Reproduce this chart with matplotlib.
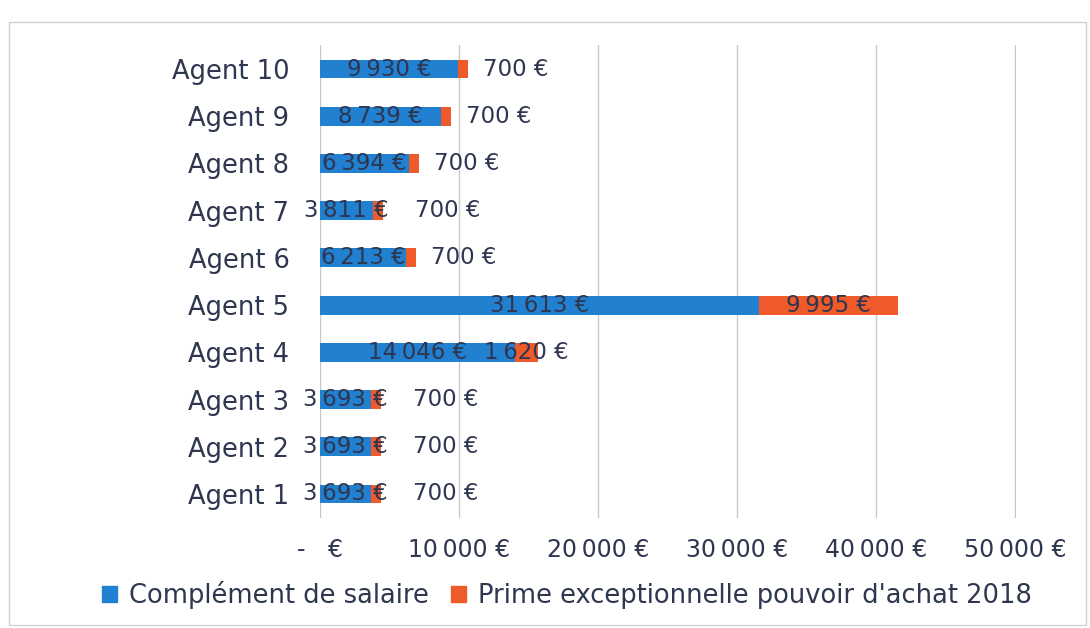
import matplotlib.pyplot as plt
from matplotlib.patches import Rectangle, Patch

agents = ['Agent 1', 'Agent 2', 'Agent 3', 'Agent 4', 'Agent 5',
          'Agent 6', 'Agent 7', 'Agent 8', 'Agent 9', 'Agent 10']
complement = [3693, 3693, 3693, 14046, 31613, 6213, 3811, 6394, 8739, 9930]
prime = [700, 700, 700, 1620, 9995, 700, 700, 700, 700, 700]
xticks = [0, 10000, 20000, 30000, 40000, 50000]
xlabels = ['-   €', '10\u2009000 €', '20\u2009000 €', '30\u2009000 €', '40\u2009000 €', '50\u2009000 €']

blue = '#2180d0'
orange = '#ee5a2a'
txt = '#2f3650'

plt.rcParams['font.family'] = ['DejaVu Sans']

def euro(v):
    s = f'{v:,}'.replace(',', '\u2009')
    return s + ' €'

fig = plt.figure(figsize=(10.9, 6.28), dpi=100)
ax = fig.add_axes([0.2936, 0.1758, 0.932 - 0.2936, 0.9277 - 0.1758])

y = list(range(len(agents)))
ax.barh(y, complement, height=0.4, color=blue, zorder=3)
ax.barh(y, prime, left=complement, height=0.4, color=orange, zorder=3)

for i in y:
    c, p = complement[i], prime[i]
    ax.text(c / 2, i, euro(c), ha='center', va='center', fontsize=16.5, color=txt, zorder=4)
    if p > 1000:
        ax.text(c + p / 2, i, euro(p), ha='center', va='center', fontsize=16.5, color=txt, zorder=4)
    else:
        off = 32 if c < 5000 else 15
        ax.annotate(euro(p), (c + p, i), xytext=(off * 0.72, 0), textcoords='offset points',
                    ha='left', va='center', fontsize=16.5, color=txt, zorder=4)

ax.set_xlim(0, 50060)
ax.set_ylim(-0.5, len(agents) - 0.5)
ax.set_xticks(xticks)
ax.set_xticklabels(xlabels, fontsize=17, color=txt)
ax.set_yticks(y)
ax.set_yticklabels(agents, fontsize=18.5, color=txt)
ax.tick_params(axis='x', length=0, pad=15)
ax.tick_params(axis='y', length=0, pad=22)
ax.grid(axis='x', color='#c8c8c8', linewidth=1, zorder=0)
for s in ax.spines.values():
    s.set_visible(False)

handles = [Patch(color=blue, label='Complément de salaire'),
           Patch(color=orange, label="Prime exceptionnelle pouvoir d'achat 2018")]
fig.legend(handles=handles, loc='center', bbox_to_anchor=(0.52, 0.053), ncol=2, frameon=False,
           fontsize=18.5, handlelength=0.6, handleheight=0.6, handletextpad=0.45, columnspacing=0.85,
           labelcolor=txt)

fig.patches.append(Rectangle((0.008, 0.005), 0.988, 0.96, transform=fig.transFigure,
                             fill=False, edgecolor='#d0d0d0', linewidth=1))

fig.savefig('out.png', dpi=100)
